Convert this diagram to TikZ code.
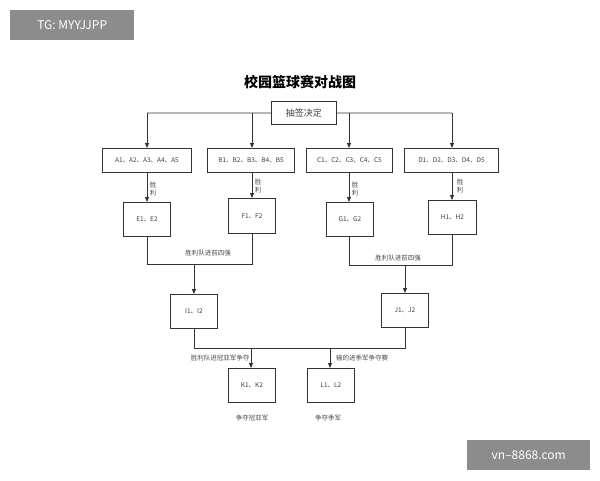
\documentclass[tikz,border=0pt]{standalone}
\usepackage{fontspec}
\setmainfont{Noto Sans CJK SC}
\usetikzlibrary{arrows.meta}
\begin{document}
\begin{tikzpicture}[x=1pt,y=-1pt,
  box/.style={draw=black!80,line width=0.9pt,minimum width=#1,anchor=north west,inner sep=0,font=\fontsize{6.5}{7.5}\selectfont,text=black!75},
  ln/.style={draw=black!80,line width=0.9pt},
  ar/.style={ln,-{Triangle[length=5pt,width=4pt]}},
  lb/.style={font=\fontsize{6.5}{7.5}\selectfont,text=black!70,inner sep=0}]
\useasboundingbox (0,0) rectangle (600,480);
\fill[white] (0,0) rectangle (600,480);
% watermarks
\node[fill=black!45,text=white,minimum width=124,minimum height=30,inner sep=0,font=\fontsize{12}{14}\selectfont,anchor=north west] (wm1) at (10,10) {TG: MYYJJPP};
\node[fill=black!45,text=white,minimum width=123,minimum height=30,inner sep=0,font=\fontsize{12}{14}\selectfont,anchor=north west] (wm2) at (467,440) {vn–8868.com};
\node[font=\bfseries\fontsize{14}{16}\selectfont] (title) at (300,82) {校园篮球赛对战图};
\node[box=65,minimum height=23,font=\fontsize{9}{10}\selectfont] (draw) at (271,101) {抽签决定};
\node[box=89,minimum height=24] (A) at (102,148) {A1、A2、A3、A4、A5};
\node[box=87,minimum height=24] (B) at (207,148) {B1、B2、B3、B4、B5};
\node[box=86,minimum height=24] (C) at (306,148) {C1、C2、C3、C4、C5};
\node[box=94,minimum height=24] (D) at (404,148) {D1、D2、D3、D4、D5};
\node[box=47,minimum height=34] (E) at (123,202) {E1、E2};
\node[box=47,minimum height=35] (F) at (228,198) {F1、F2};
\node[box=47,minimum height=34] (G) at (326,202) {G1、G2};
\node[box=48,minimum height=34] (H) at (428,200) {H1、H2};
\node[box=47,minimum height=34] (I) at (170,294) {I1、I2};
\node[box=47,minimum height=34] (J) at (381,293) {J1、J2};
\node[box=47,minimum height=34] (K) at (228,368) {K1、K2};
\node[box=47,minimum height=34] (L) at (307,368) {L1、L2};
\coordinate (t1) at (147,113);
\coordinate (t4) at (452,113);
\draw[ln] (draw.west) -- (t1);
\draw[ln] (draw.east) -- (t4);
\draw[ar] (t1) -- (A.north -| t1);
\draw[ar] (252,113) -- (B.north -| 252,0);
\draw[ar] (349,113) -- (C.north -| 349,0);
\draw[ar] (t4) -- (D.north -| t4);
\draw[ar] (A.south -| 147,0) -- (E.north -| 147,0);
\draw[ar] (B.south -| 252,0) -- (F.north -| 252,0);
\draw[ar] (C.south -| 349,0) -- (G.north -| 349,0);
\draw[ar] (D.south -| 452,0) -- (H.north -| 452,0);
\node[lb,align=center] (w1) at (153,189) {胜\\利};
\node[lb,align=center] (w2) at (258,186) {胜\\利};
\node[lb,align=center] (w3) at (355,189) {胜\\利};
\node[lb,align=center] (w4) at (460,186) {胜\\利};
\draw[ln] (E.south -| 147,0) |- (252,264) -- (F.south -| 252,0);
\draw[ar] (I.north |- 0,264) -- (I.north);
\draw[ln] (G.south -| 349,0) |- (452,265) -- (H.south -| 452,0);
\draw[ar] (J.north |- 0,265) -- (J.north);
\node[lb] (q1) at (208,253) {胜利队进前四强};
\node[lb] (q2) at (398,258) {胜利队进前四强};
\draw[ln] (I.south) |- (J.south |- 0,348) -- (J.south);
\draw[ar] (251,348) -- (K.north -| 251,0);
\draw[ar] (330,348) -- (L.north -| 330,0);
\node[lb] (f1) at (220,358) {胜利队进冠亚军争夺};
\node[lb,anchor=west] (f2) at (336,358) {输的进季军争夺赛};
\node[lb] (r1) at (252,418) {争夺冠亚军};
\node[lb] (r2) at (328,418) {争夺季军};
\end{tikzpicture}
\end{document}
